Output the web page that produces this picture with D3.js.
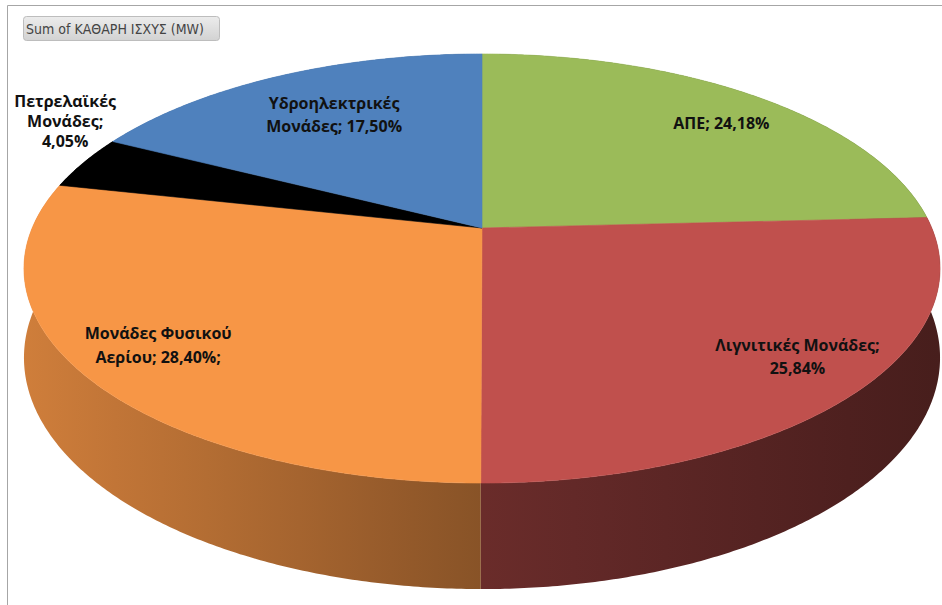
<!DOCTYPE html>
<html>
<head>
<meta charset="utf-8">
<script src="https://cdn.jsdelivr.net/npm/d3@7/dist/d3.min.js"></script>
<style>
  html, body { margin: 0; padding: 0; background: #ffffff; }
  svg { display: block; }
</style>
</head>
<body>
<svg id="chart" width="942" height="605"></svg>
<script>
// Net installed capacity by generation type (share of total, %)
const categories = ["ΑΠΕ", "Λιγνιτικές Μονάδες", "Μονάδες Φυσικού Αερίου", "Πετρελαϊκές Μονάδες", "Υδροηλεκτρικές Μονάδες"];
const shares = [24.18, 25.84, 28.40, 4.05, 17.50];
const sliceColors = ["#9bbb59", "#c0504d", "#f79646", "#000000", "#4f81bd"];
// Label lines per slice; {v} is replaced with the formatted share
const labelTemplates = [
  ["ΑΠΕ; {v}"],
  ["Λιγνιτικές Μονάδες;", "{v}"],
  ["Μονάδες Φυσικού", "Αερίου; {v};"],
  ["Πετρελαϊκές", "Μονάδες;", "{v}"],
  ["Υδροηλεκτρικές", "Μονάδες; {v}"]
];
const fieldButtonText = "Sum of ΚΑΘΑΡΗ ΙΣΧΥΣ (MW)";

// ---- layout -------------------------------------------------------------
const W = 942, H = 605;
const view = { cx: 482, cy: 228, ax: 449.8, ay: 206.9, persp: 0.1888, depth: 86 };
// label placement: radial fraction of the rim, pixel nudge, line spacing
const labelPlacement = [
  { r: 0.86, dx: 1, dy: 10, gap: 23 },
  { r: 0.86, dx: 0, dy: -10, gap: 23 },
  { r: 0.83, dx: -1, dy: -2, gap: 24 },
  { r: 1.05, dx: 0, dy: -38, gap: 20 },
  { r: 0.70, dx: 0, dy: -3, gap: 23 }
];

const svg = d3.select("#chart");
const defs = svg.append("defs");

// chart frame
svg.append("path")
  .attr("d", `M7.5,${H} V5.5 H${W}`)
  .attr("fill", "none").attr("stroke", "#a6a6a6").attr("stroke-width", 1);

// tilted disc: angle measured clockwise from 12 o'clock, r in rim fractions
function project(theta, r = 1, drop = 0) {
  const u = Math.sin(theta) * r, v = Math.cos(theta) * r;
  const w = 1 + view.persp * v;
  const wr = 1 + view.persp * Math.cos(theta);
  return [view.cx + view.ax * u / w, view.cy - view.ay * v / w + drop * view.depth / wr];
}

const pie = d3.pie().sort(null).value(d => d).startAngle(0).endAngle(2 * Math.PI);
const arcs = pie(shares);
const step = Math.PI / 360;

function arcAngles(a0, a1) {
  const n = Math.max(2, Math.ceil((a1 - a0) / step));
  return d3.range(n + 1).map(i => a0 + (a1 - a0) * i / n);
}

const line = d3.line();
// side-wall lighting across the screen: bright on the left, dark on the right
const shadeX = [24, 482, 940];
const shade = d3.scaleLinear().domain(shadeX).range([0.84, 0.55, 0.37]).clamp(true);

// side walls, each filled with a horizontal lighting gradient
const sides = svg.append("g").attr("class", "sides");
arcs.forEach((a, i) => {
  const base = d3.rgb(sliceColors[i]);
  const grad = defs.append("linearGradient")
    .attr("id", "side" + i).attr("gradientUnits", "userSpaceOnUse")
    .attr("x1", shadeX[0]).attr("x2", shadeX[2]).attr("y1", 0).attr("y2", 0);
  d3.range(0, 1.0001, 0.1).forEach(t => {
    const x = shadeX[0] + t * (shadeX[2] - shadeX[0]);
    const f = shade(x);
    grad.append("stop").attr("offset", t)
      .attr("stop-color", d3.rgb(base.r * f, base.g * f, base.b * f).formatHex());
  });
  const angs = arcAngles(a.startAngle, a.endAngle);
  const pts = angs.map(t => project(t)).concat(angs.slice().reverse().map(t => project(t, 1, 1)));
  sides.append("path")
    .attr("d", line(pts) + "Z")
    .attr("fill", `url(#side${i})`);
});

// top faces
const tops = svg.append("g").attr("class", "tops");
arcs.forEach((a, i) => {
  const pts = [project(0, 0)].concat(arcAngles(a.startAngle, a.endAngle).map(t => project(t)));
  tops.append("path")
    .attr("d", line(pts) + "Z")
    .attr("fill", sliceColors[i])
    .attr("stroke", sliceColors[i]).attr("stroke-width", 0.6);
});

// data labels
const fmt = v => d3.format(".2f")(v).replace(".", ",") + "%";
const labels = svg.append("g").attr("class", "labels")
  .attr("font-family", "'Open Sans', 'Noto Sans', sans-serif")
  .attr("font-weight", 700).attr("font-size", 16).attr("fill", "#111111")
  .attr("text-anchor", "middle");
arcs.forEach((a, i) => {
  const mid = (a.startAngle + a.endAngle) / 2;
  const pl = labelPlacement[i];
  const [x, y] = project(mid, pl.r);
  const lines = labelTemplates[i].map(s => s.replace("{v}", fmt(shares[i])));
  const t = labels.append("text")
    .attr("x", x + pl.dx)
    .attr("y", y + pl.dy - (lines.length - 1) * pl.gap / 2)
    .attr("dominant-baseline", "central");
  lines.forEach((s, k) => {
    t.append("tspan").attr("x", x + pl.dx).attr("dy", k === 0 ? 0 : pl.gap).text(s);
  });
});

// pivot field button
const g = defs.append("linearGradient").attr("id", "btn").attr("x1", 0).attr("y1", 0).attr("x2", 0).attr("y2", 1);
g.append("stop").attr("offset", 0).attr("stop-color", "#ececec");
g.append("stop").attr("offset", 1).attr("stop-color", "#d2d2d2");
svg.append("rect")
  .attr("x", 23.5).attr("y", 16.5).attr("width", 196).attr("height", 24).attr("rx", 3)
  .attr("fill", "url(#btn)").attr("stroke", "#bdbdbd");
svg.append("text")
  .attr("x", 26).attr("y", 29).attr("dominant-baseline", "central")
  .attr("font-family", "'DejaVu Sans Condensed', 'DejaVu Sans', sans-serif")
  .attr("font-size", 14).attr("fill", "#444444")
  .text(fieldButtonText);
</script>
</body>
</html>
